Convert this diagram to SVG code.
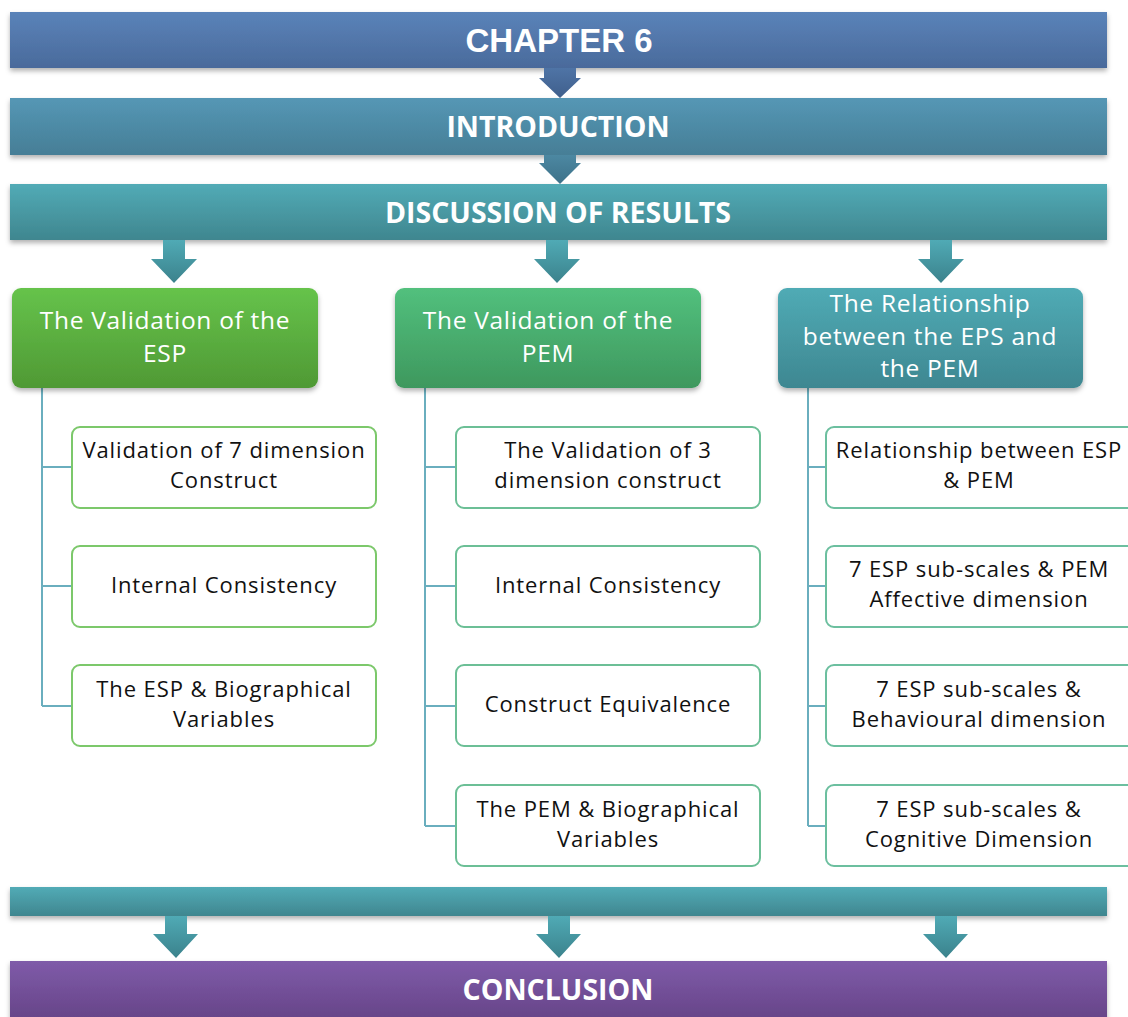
<svg xmlns="http://www.w3.org/2000/svg" width="1128" height="1017" viewBox="0 0 1128 1017">
  <defs>
    <linearGradient id="gChapter" x1="0" y1="0" x2="0" y2="1">
      <stop offset="0" stop-color="#5a83b9"/>
      <stop offset="1" stop-color="#4a6a9b"/>
    </linearGradient>
    <linearGradient id="gIntro" x1="0" y1="0" x2="0" y2="1">
      <stop offset="0" stop-color="#5597b5"/>
      <stop offset="1" stop-color="#467e96"/>
    </linearGradient>
    <linearGradient id="gTeal" x1="0" y1="0" x2="0" y2="1">
      <stop offset="0" stop-color="#52abb6"/>
      <stop offset="1" stop-color="#3f868f"/>
    </linearGradient>
    <linearGradient id="gConcl" x1="0" y1="0" x2="0" y2="1">
      <stop offset="0" stop-color="#7f5ba9"/>
      <stop offset="1" stop-color="#654386"/>
    </linearGradient>
    <linearGradient id="gGreen" x1="0" y1="0" x2="0" y2="1">
      <stop offset="0" stop-color="#66c34b"/>
      <stop offset="1" stop-color="#4f9934"/>
    </linearGradient>
    <linearGradient id="gMint" x1="0" y1="0" x2="0" y2="1">
      <stop offset="0" stop-color="#52c07d"/>
      <stop offset="1" stop-color="#3e985e"/>
    </linearGradient>
    <linearGradient id="gHeadTeal" x1="0" y1="0" x2="0" y2="1">
      <stop offset="0" stop-color="#50abb5"/>
      <stop offset="1" stop-color="#3e8791"/>
    </linearGradient>
    <linearGradient id="gArrowBlue" x1="0" y1="0" x2="0" y2="1">
      <stop offset="0" stop-color="#4f74a6"/>
      <stop offset="1" stop-color="#3f5f8c"/>
    </linearGradient>
    <linearGradient id="gArrowIntro" x1="0" y1="0" x2="0" y2="1">
      <stop offset="0" stop-color="#4c88a2"/>
      <stop offset="1" stop-color="#3d7189"/>
    </linearGradient>
    <linearGradient id="gArrowTeal" x1="0" y1="0" x2="0" y2="1">
      <stop offset="0" stop-color="#50aab5"/>
      <stop offset="1" stop-color="#3b828c"/>
    </linearGradient>
    <filter id="shadow" x="-5%" y="-20%" width="110%" height="150%">
      <feDropShadow dx="0" dy="3" stdDeviation="2.5" flood-color="#000" flood-opacity="0.3"/>
    </filter>
  </defs>
  <style>
    .banner { font-family: "Open Sans", "Liberation Sans", sans-serif; font-weight: bold; font-size: 28.5px; fill: #ffffff; text-anchor: middle; dominant-baseline: central; }
    .title { font-family: "Liberation Sans", Arial, sans-serif; font-size: 33px; }
    .head { font-family: "Open Sans", "Noto Sans", sans-serif; font-size: 24.5px; letter-spacing: 0.7px; fill: #ffffff; text-anchor: middle; }
    .item { font-family: "Open Sans", "Noto Sans", sans-serif; font-size: 22px; letter-spacing: 0.9px; fill: #111111; text-anchor: middle; }
    .box { fill: #ffffff; stroke-width: 2; }
    .boxG { stroke: #7cc86b; }
    .boxM { stroke: #6cbf96; }
    .boxT { stroke: #6cbf9f; }
    .tree { fill: none; stroke: #6aaebe; stroke-width: 2; }
  </style>

  <!-- banners -->
  <g id="chapter6">
    <rect x="10" y="12" width="1097" height="56" fill="url(#gChapter)" filter="url(#shadow)"/>
    <text class="banner title" x="559" y="40">CHAPTER 6</text>
  </g>
  <g id="introduction">
    <rect x="10" y="98" width="1097" height="57" fill="url(#gIntro)" filter="url(#shadow)"/>
    <text class="banner" x="558" y="126">INTRODUCTION</text>
  </g>
  <g id="discussion">
    <rect x="10" y="184" width="1097" height="56" fill="url(#gTeal)" filter="url(#shadow)"/>
    <text class="banner" x="558" y="212">DISCUSSION OF RESULTS</text>
  </g>
  <g id="summary-bar">
    <rect x="10" y="887" width="1097" height="29" fill="url(#gTeal)" filter="url(#shadow)"/>
  </g>
  <g id="conclusion">
    <rect x="10" y="961" width="1097" height="62" fill="url(#gConcl)" filter="url(#shadow)"/>
    <text class="banner" x="558" y="989">CONCLUSION</text>
  </g>

  <!-- block arrows between stages -->
  <g id="arrows">
    <path d="M544 68 H576 V78 H581 L560 98 L539 78 H544 Z" fill="url(#gArrowBlue)"/>
    <path d="M544 155 H576 V163 H581 L560 184 L539 163 H544 Z" fill="url(#gArrowIntro)"/>
    <path d="M163 240 H185 V259 H197 L174 283 L151 259 H163 Z" fill="url(#gArrowTeal)"/>
    <path d="M546 240 H568 V259 H580 L557 283 L534 259 H546 Z" fill="url(#gArrowTeal)"/>
    <path d="M930 240 H952 V259 H964 L941 283 L918 259 H930 Z" fill="url(#gArrowTeal)"/>
    <path d="M165 916 H187 V934 H198 L176 958 L153 934 H165 Z" fill="url(#gArrowTeal)"/>
    <path d="M548 916 H570 V934 H581 L559 958 L536 934 H548 Z" fill="url(#gArrowTeal)"/>
    <path d="M935 916 H957 V934 H968 L946 958 L923 934 H935 Z" fill="url(#gArrowTeal)"/>
  </g>

  <!-- tree connectors -->
  <g id="connectors">
    <path class="tree" d="M42 388 V706 M42 467 H72 M42 586 H72 M42 706 H72"/>
    <path class="tree" d="M425 388 V826 M425 467 H456 M425 586 H456 M425 706 H456 M425 826 H456"/>
    <path class="tree" d="M808 388 V826 M808 467 H826 M808 586 H826 M808 706 H826 M808 826 H826"/>
  </g>

  <!-- column headers -->
  <g id="head-esp">
    <rect x="12" y="288" width="306" height="100" rx="9" fill="url(#gGreen)" filter="url(#shadow)"/>
    <text class="head" x="165" y="329">The Validation of the</text>
    <text class="head" x="165" y="362">ESP</text>
  </g>
  <g id="head-pem">
    <rect x="395" y="288" width="306" height="100" rx="9" fill="url(#gMint)" filter="url(#shadow)"/>
    <text class="head" x="548" y="329">The Validation of the</text>
    <text class="head" x="548" y="362">PEM</text>
  </g>
  <g id="head-rel">
    <rect x="778" y="288" width="305" height="100" rx="9" fill="url(#gHeadTeal)" filter="url(#shadow)"/>
    <text class="head" x="930" y="312">The Relationship</text>
    <text class="head" x="930" y="345">between the EPS and</text>
    <text class="head" x="930" y="377">the PEM</text>
  </g>

  <!-- ESP column items -->
  <g id="esp-1">
    <rect class="box boxG" x="72" y="427" width="304" height="81" rx="8"/>
    <text class="item" x="224" y="458">Validation of 7 dimension</text>
    <text class="item" x="224" y="488">Construct</text>
  </g>
  <g id="esp-2">
    <rect class="box boxG" x="72" y="546" width="304" height="81" rx="8"/>
    <text class="item" x="224" y="593">Internal Consistency</text>
  </g>
  <g id="esp-3">
    <rect class="box boxG" x="72" y="665" width="304" height="81" rx="8"/>
    <text class="item" x="224" y="697">The ESP &amp; Biographical</text>
    <text class="item" x="224" y="727">Variables</text>
  </g>

  <!-- PEM column items -->
  <g id="pem-1">
    <rect class="box boxM" x="456" y="427" width="304" height="81" rx="8"/>
    <text class="item" x="608" y="458">The Validation of 3</text>
    <text class="item" x="608" y="488">dimension construct</text>
  </g>
  <g id="pem-2">
    <rect class="box boxM" x="456" y="546" width="304" height="81" rx="8"/>
    <text class="item" x="608" y="593">Internal Consistency</text>
  </g>
  <g id="pem-3">
    <rect class="box boxM" x="456" y="665" width="304" height="81" rx="8"/>
    <text class="item" x="608" y="712">Construct Equivalence</text>
  </g>
  <g id="pem-4">
    <rect class="box boxM" x="456" y="785" width="304" height="81" rx="8"/>
    <text class="item" x="608" y="817">The PEM &amp; Biographical</text>
    <text class="item" x="608" y="847">Variables</text>
  </g>

  <!-- relationship column items -->
  <g id="rel-1">
    <rect class="box boxT" x="826" y="427" width="310" height="81" rx="8"/>
    <text class="item" x="979" y="458">Relationship between ESP</text>
    <text class="item" x="979" y="488">&amp; PEM</text>
  </g>
  <g id="rel-2">
    <rect class="box boxT" x="826" y="546" width="310" height="81" rx="8"/>
    <text class="item" x="979" y="577">7 ESP sub-scales &amp; PEM</text>
    <text class="item" x="979" y="607">Affective dimension</text>
  </g>
  <g id="rel-3">
    <rect class="box boxT" x="826" y="665" width="310" height="81" rx="8"/>
    <text class="item" x="979" y="697">7 ESP sub-scales &amp;</text>
    <text class="item" x="979" y="727">Behavioural dimension</text>
  </g>
  <g id="rel-4">
    <rect class="box boxT" x="826" y="785" width="310" height="81" rx="8"/>
    <text class="item" x="979" y="817">7 ESP sub-scales &amp;</text>
    <text class="item" x="979" y="847">Cognitive Dimension</text>
  </g>
</svg>
